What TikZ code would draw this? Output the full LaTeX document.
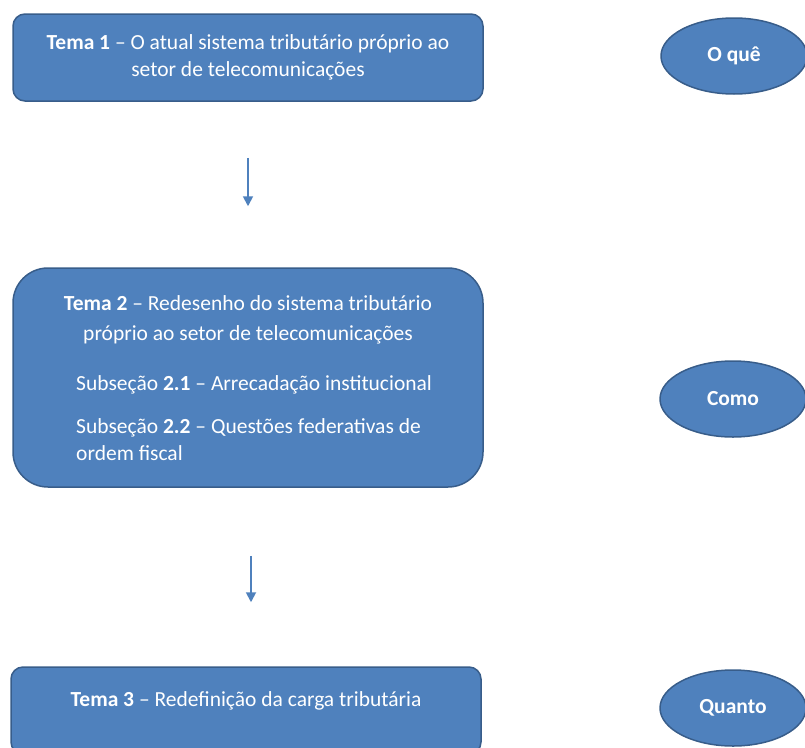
\documentclass[tikz,border=0pt]{standalone}
\usepackage{fontspec}
\setmainfont{Carlito}
\usetikzlibrary{shapes.geometric,arrows.meta}
\definecolor{temafill}{HTML}{4F81BD}
\definecolor{temaline}{HTML}{385D8A}
\begin{document}
\begin{tikzpicture}[x=1pt, y=-1pt,
		tema/.style={draw=temaline, line width=1.5pt, fill=temafill, rounded corners=12pt,
			minimum width=470pt, text=white, align=center, font=\fontsize{21.5}{27}\selectfont},
		texto/.style={text=white, inner sep=0pt, font=\fontsize{21.5}{26.5}\selectfont},
		pergunta/.style={ellipse, draw=temaline, line width=1.5pt, fill=temafill, inner sep=0pt,
			minimum width=146pt, minimum height=76pt, text=white, font=\bfseries\fontsize{21.5}{26}\selectfont},
		seta/.style={-{Triangle[length=10pt, width=10pt]}, draw=temafill, line width=1.8pt}]
			\useasboundingbox (0,0) rectangle (805,747);
			\clip (0,0) rectangle (805,747);
			\node[tema, minimum height=87pt] (tema1) at (248,57.5)
			  {\textbf{Tema 1} -- O atual sistema tributário próprio ao\\setor de telecomunicações};
			\node[tema, minimum height=219pt, rounded corners=35pt] (tema2) at (248,377.5) {};
			\node[texto, align=center] (titulo2) at (248,320)
			  {\textbf{Tema 2} -- Redesenho do sistema tributário\\[3pt]próprio ao setor de telecomunicações};
			\node[texto, anchor=base west] (sub21) at (76,390) {Subseção \textbf{2.1} -- Arrecadação institucional};
			\node[texto, anchor=base west, align=left] (sub22) at (76,460)
			  {Subseção \textbf{2.2} -- Questões federativas de\\ordem fiscal};
			\node[tema, minimum height=87pt, text depth=23pt] (tema3) at (246,710.5)
			  {\textbf{Tema 3} -- Redefinição da carga tributária};
			\node[pergunta] (oque) at (734,56) {O quê};
			\node[pergunta] (como) at (733,399) {Como};
			\node[pergunta] (quanto) at (733,708) {Quanto};
			\draw[seta, shorten <=56pt, shorten >=61pt] (tema1.south) -- (tema2.north);
			\draw[seta, shorten <=68pt, shorten >=64pt] ([xshift=3pt]tema2.south) -- ([xshift=5pt]tema3.north);
\end{tikzpicture}
\end{document}
